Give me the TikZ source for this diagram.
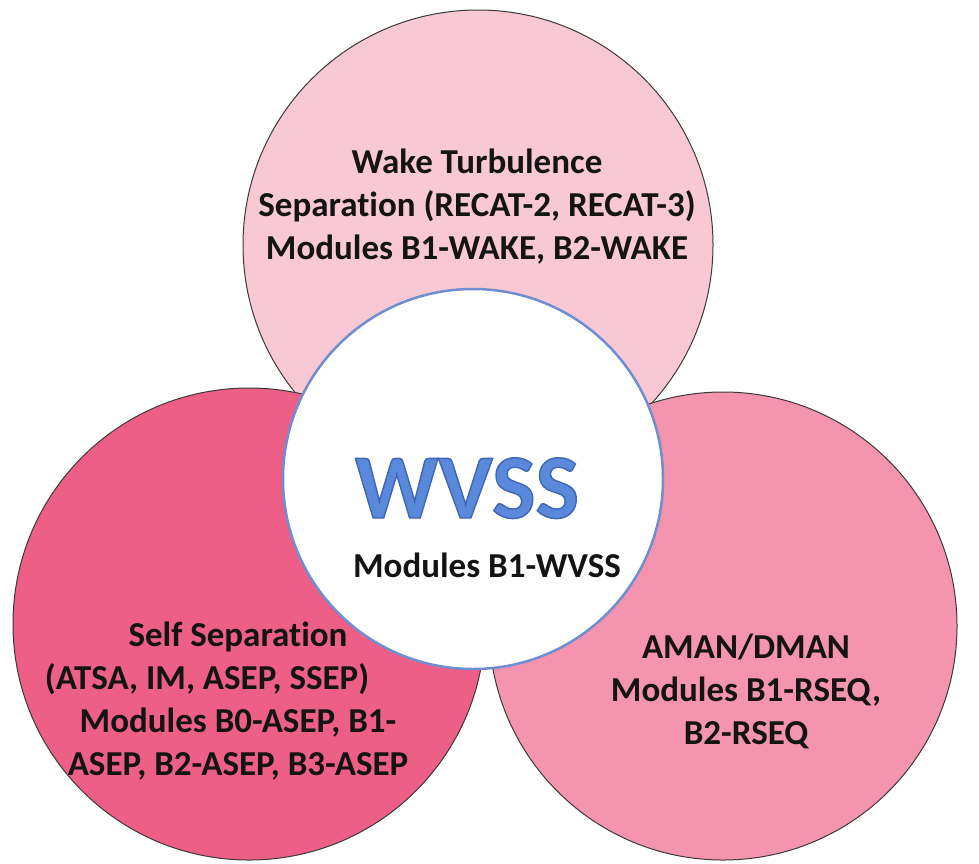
\documentclass[tikz,border=0pt]{standalone}
\usepackage{fontspec}
\setmainfont{Carlito}[Ligatures={NoCommon}]
\definecolor{wakepink}{HTML}{F8C8D4}
\definecolor{selfpink}{HTML}{EE5F87}
\definecolor{amanpink}{HTML}{F594AF}
\definecolor{ringline}{HTML}{3A3A3A}
\definecolor{hubblue}{HTML}{6F8ED0}
\definecolor{wvssblue}{HTML}{5A88DA}
\definecolor{txt}{HTML}{141414}
% filled glyphs with a thin darker-blue stroke (text render mode 2)
\newcommand{\strokedtext}[1]{%
  \special{pdf:literal direct 2 Tr 1.4 w 0.243 0.404 0.710 RG}#1%
  \special{pdf:literal direct 0 Tr}}
\begin{document}
\begin{tikzpicture}[x=1pt,y=-1pt,
  ring/.style={circle, draw=ringline, line width=1pt, inner sep=0pt, minimum size=#1},
  lbl/.style={font=\bfseries\fontsize{35}{43}\selectfont, text=txt, align=center, inner sep=0pt}]
\useasboundingbox (0,0) rectangle (979,863);
\fill[white] (0,0) rectangle (979,863);
% the three outer circles
\node[ring=470pt, fill=wakepink] (wake) at (478,245) {};
\node[ring=472pt, fill=selfpink] (self) at (249,624) {};
\node[ring=468pt, fill=amanpink] (aman) at (723,626) {};
% central circle
\node[circle, draw=hubblue, line width=2.5pt, fill=white, inner sep=0pt,
      minimum size=380pt] (hub) at (473,479) {};
% labels
\node[lbl] (waketext) at (477,207)
  {Wake Turbulence\\Separation (RECAT-2, RECAT-3)\\Modules B1-WAKE, B2-WAKE};
\node[lbl] (selftext) at (238,701)
  {Self Separation\\\hbox{(ATSA, IM, ASEP, SSEP)\kern62pt}\\Modules B0-ASEP, B1-\\ASEP, B2-ASEP, B3-ASEP};
\node[lbl] (amantext) at (746,691)
  {AMAN/DMAN\\Modules B1-RSEQ,\\B2-RSEQ};
\node[font=\bfseries\fontsize{92}{92}\selectfont, text=wvssblue, anchor=base,
      inner sep=0pt] (wvss) at (467,518) {\strokedtext{WVSS}};
\node[lbl, anchor=base] (hubtext) at (487,577) {Modules B1-WVSS};
\end{tikzpicture}
\end{document}
